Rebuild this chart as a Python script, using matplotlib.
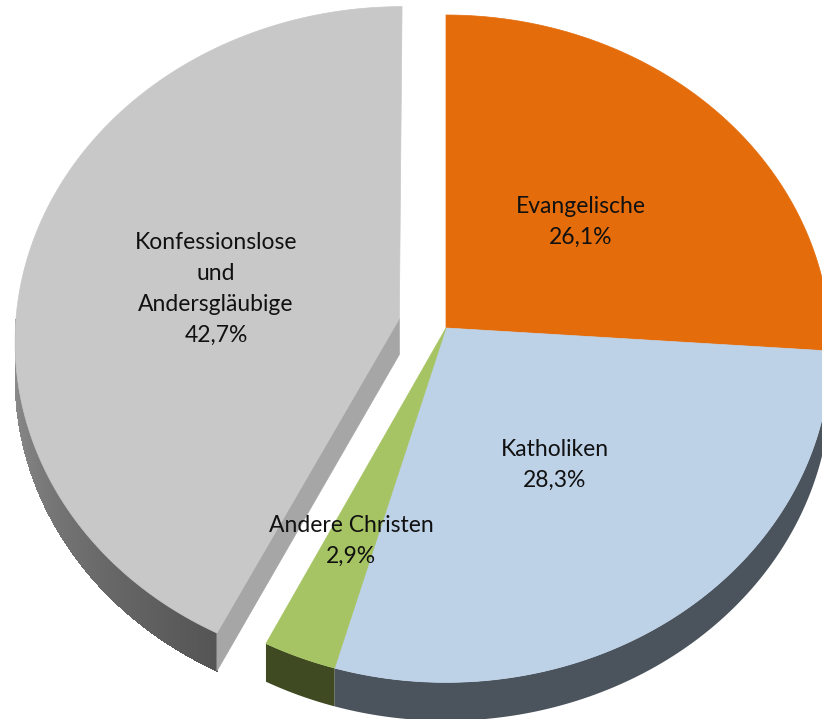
import numpy as np
import matplotlib
matplotlib.use("Agg")
import matplotlib.pyplot as plt
from matplotlib.patches import Polygon

# ---------------- data ----------------
categories = ["Evangelische", "Katholiken", "Andere Christen",
              "Konfessionslose\nund\nAndersgläubige"]
shares = [26.1, 28.3, 2.9, 42.7]
value_labels = ["26,1%", "28,3%", "2,9%", "42,7%"]
explode = [0.0, 0.0, 0.0, 0.125]

# ---------------- style / layout ----------------
top_colors = ["#E46C0B", "#BDD1E7", "#A6C463", "#C8C8C8"]
side_colors = [("#8A4408", "#8A4408"), ("#4B545D", "#4B545D"),
               ("#3F4A22", "#3F4A22"), ("#929292", "#555555")]
cut_face_color = "#A6A6A6"
label_pos = [(581, 222), (555, 465), (351, 541), (216, 289)]

W, H = 822, 719
CX, CY = 446.0, 328.0
RX, RY = 384.0, 332.4
K = 0.062      # perspective factor
DZ = 36.0      # depth of the pie

def proj(X, Y, Z):
    X = np.asarray(X, float); Y = np.asarray(Y, float); Z = np.asarray(Z, float)
    s = 1.0 / (1.0 + K * Y)
    return CX + RX * X * s, CY - RY * Y * s + DZ * Z * s

fig = plt.figure(figsize=(W / 100, H / 100), dpi=100)
ax = fig.add_axes([0, 0, 1, 1])
ax.set_xlim(0, W)
ax.set_ylim(H, 0)
ax.axis("off")

total = sum(shares)
fracs = np.array(shares) / total
cum = np.concatenate([[0], np.cumsum(fracs)])
starts = 90 - 360 * cum[:-1]   # a0 (larger)
ends = 90 - 360 * cum[1:]      # a1 (smaller)

def hex2rgb(h):
    h = h.lstrip("#")
    return np.array([int(h[i:i + 2], 16) / 255 for i in (0, 2, 4)])

def wall_poly(t0, t1, ox, oy, n):
    tt = np.deg2rad(np.linspace(t0, t1, n))
    X = np.cos(tt) + ox; Y = np.sin(tt) + oy
    xt, yt = proj(X, Y, 0 * X)
    xb, yb = proj(X, Y, 0 * X + 1)
    return np.column_stack([np.r_[xt, xb[::-1]], np.r_[yt, yb[::-1]]])

def draw_slice(i, zbase):
    a0, a1 = starts[i], ends[i]
    mid = np.deg2rad((a0 + a1) / 2)
    ox, oy = explode[i] * np.cos(mid), explode[i] * np.sin(mid)
    # outer wall (front part only)
    w0, w1 = min(a0, 0), max(a1, -180)
    if w0 > w1:
        c_a, c_b = hex2rgb(side_colors[i][0]), hex2rgb(side_colors[i][1])
        # base wall, antialiased for smooth outline
        ax.add_patch(Polygon(wall_poly(w1, w0, ox, oy, 300), closed=True,
                             facecolor=(c_a + c_b) / 2, edgecolor="none",
                             zorder=zbase))
        if side_colors[i][0] != side_colors[i][1]:
            n = max(int((w0 - w1) * 2), 2)
            th = np.linspace(w1, w0, n + 1)
            for j in range(n):
                t = j / max(n - 1, 1)
                col = c_a * (1 - t) + c_b * t
                ax.add_patch(Polygon(wall_poly(th[j], th[j + 1] + 0.05, ox, oy, 3),
                                     closed=True, facecolor=col, edgecolor="none",
                                     antialiased=False, zorder=zbase + 0.1))
    # radial cut faces (for exploded slices)
    if explode[i] > 0:
        for a, nrm in ((a0, a0 + 90), (a1, a1 - 90)):
            if np.sin(np.deg2rad(nrm)) < -0.01:
                r = np.deg2rad(a)
                X = np.array([ox, ox + np.cos(r), ox + np.cos(r), ox])
                Y = np.array([oy, oy + np.sin(r), oy + np.sin(r), oy])
                Z = np.array([0, 0, 1, 1])
                x, y = proj(X, Y, Z)
                ax.add_patch(Polygon(np.column_stack([x, y]), closed=True,
                                     facecolor=cut_face_color, edgecolor=cut_face_color,
                                     linewidth=0.5, zorder=zbase + 0.5))
    # top face
    th = np.deg2rad(np.linspace(a1, a0, 300))
    X = np.r_[ox, np.cos(th) + ox]
    Y = np.r_[oy, np.sin(th) + oy]
    x, y = proj(X, Y, 0 * X)
    ax.add_patch(Polygon(np.column_stack([x, y]), closed=True,
                         facecolor=top_colors[i], edgecolor=top_colors[i],
                         linewidth=0.5, zorder=zbase + 1))

for i in range(len(shares)):
    draw_slice(i, zbase=1 if explode[i] > 0 else 3)

for i in range(len(shares)):
    x, y = label_pos[i]
    ax.text(x, y, categories[i] + "\n" + value_labels[i], ha="center", va="center",
            fontsize=16.5, family=["Lato", "DejaVu Sans"], color="#111111",
            linespacing=1.6, zorder=10)

fig.savefig("out.png", dpi=100)
